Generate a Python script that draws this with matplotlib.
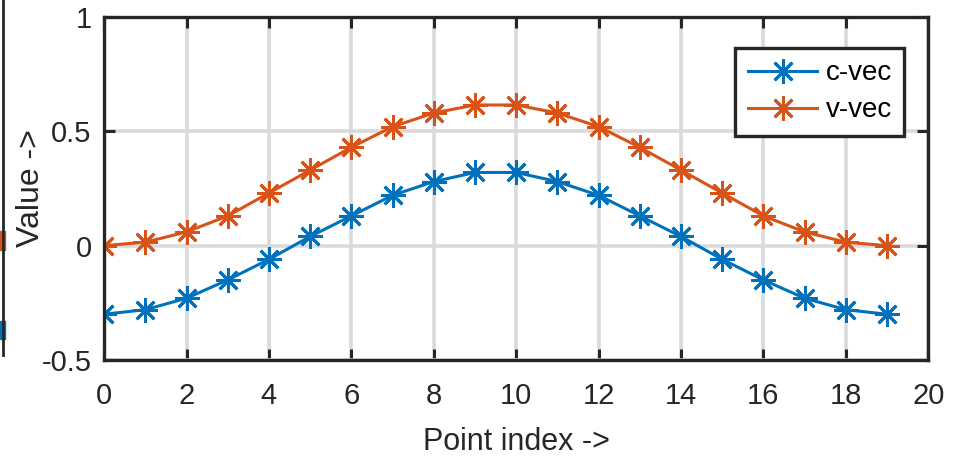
import matplotlib.pyplot as plt
import numpy as np
from matplotlib.lines import Line2D
from matplotlib.patches import Rectangle

plt.rcParams['font.family'] = ['Liberation Sans', 'DejaVu Sans']

# Data
point_index = list(range(20))
c_vec = [-0.30, -0.28, -0.23, -0.15, -0.06, 0.04, 0.13, 0.22, 0.28, 0.32,
         0.32, 0.28, 0.22, 0.13, 0.04, -0.06, -0.15, -0.23, -0.28, -0.30]
v_vec = [0.00, 0.015, 0.06, 0.13, 0.23, 0.33, 0.43, 0.52, 0.58, 0.615,
         0.615, 0.58, 0.52, 0.43, 0.33, 0.23, 0.13, 0.06, 0.015, 0.00]
x_ticks = list(range(0, 21, 2))
y_ticks = [-0.5, 0, 0.5, 1]
y_tick_labels = ['-0.5', '0', '0.5', '1']

blue = '#0072BD'
orange = '#D95319'
star = (8, 2, 0)  # asterisk like matlab '*'

fig = plt.figure(figsize=(9.55, 4.58), dpi=100)
ax = fig.add_axes([0.109, 0.214, 0.863, 0.749])

ax.plot(point_index, c_vec, color=blue, linewidth=2.2, marker=star,
        markersize=18, markeredgewidth=2.0, label='c-vec')
ax.plot(point_index, v_vec, color=orange, linewidth=2.2, marker=star,
        markersize=18, markeredgewidth=2.0, label='v-vec')

ax.set_xlim(0, 20)
ax.set_ylim(-0.5, 1)
ax.set_xticks(x_ticks)
ax.set_yticks(y_ticks)
ax.set_yticklabels(y_tick_labels)
ax.tick_params(direction='in', length=8, width=2.2, colors='#262626',
               labelsize=21, top=True, right=True)
ax.tick_params(axis='x', pad=16)
ax.tick_params(axis='y', pad=9)
ax.grid(True, color='#dadada', linewidth=2.6)
ax.set_axisbelow(True)
for s in ax.spines.values():
    s.set_linewidth(2.4)
    s.set_color('#262626')

ax.set_xlabel('Point index ->', fontsize=22, color='#262626', labelpad=12)
ax.set_ylabel('Value ->', fontsize=23, color='#262626')
ax.yaxis.set_label_coords(-0.071, 0.5)

leg = ax.legend(loc='upper right', bbox_to_anchor=(0.971, 0.91), fontsize=20,
                frameon=True, fancybox=False, handlelength=2.5,
                borderpad=0.45, labelspacing=0.4, handletextpad=0.3,
                borderaxespad=0.0)
leg.get_frame().set_edgecolor('#262626')
leg.get_frame().set_linewidth(2.4)
leg.get_frame().set_alpha(1)

# cropped neighbour panel at the left edge of the reference
fig.add_artist(Line2D([0.003, 0.003], [0.225, 1.0], color='#262626', linewidth=2))
fig.add_artist(Rectangle((0.0, 0.455), 0.005, 0.04, color=orange))
fig.add_artist(Rectangle((0.0, 0.26), 0.005, 0.04, color=blue))

fig.savefig('out.png', dpi=100)
